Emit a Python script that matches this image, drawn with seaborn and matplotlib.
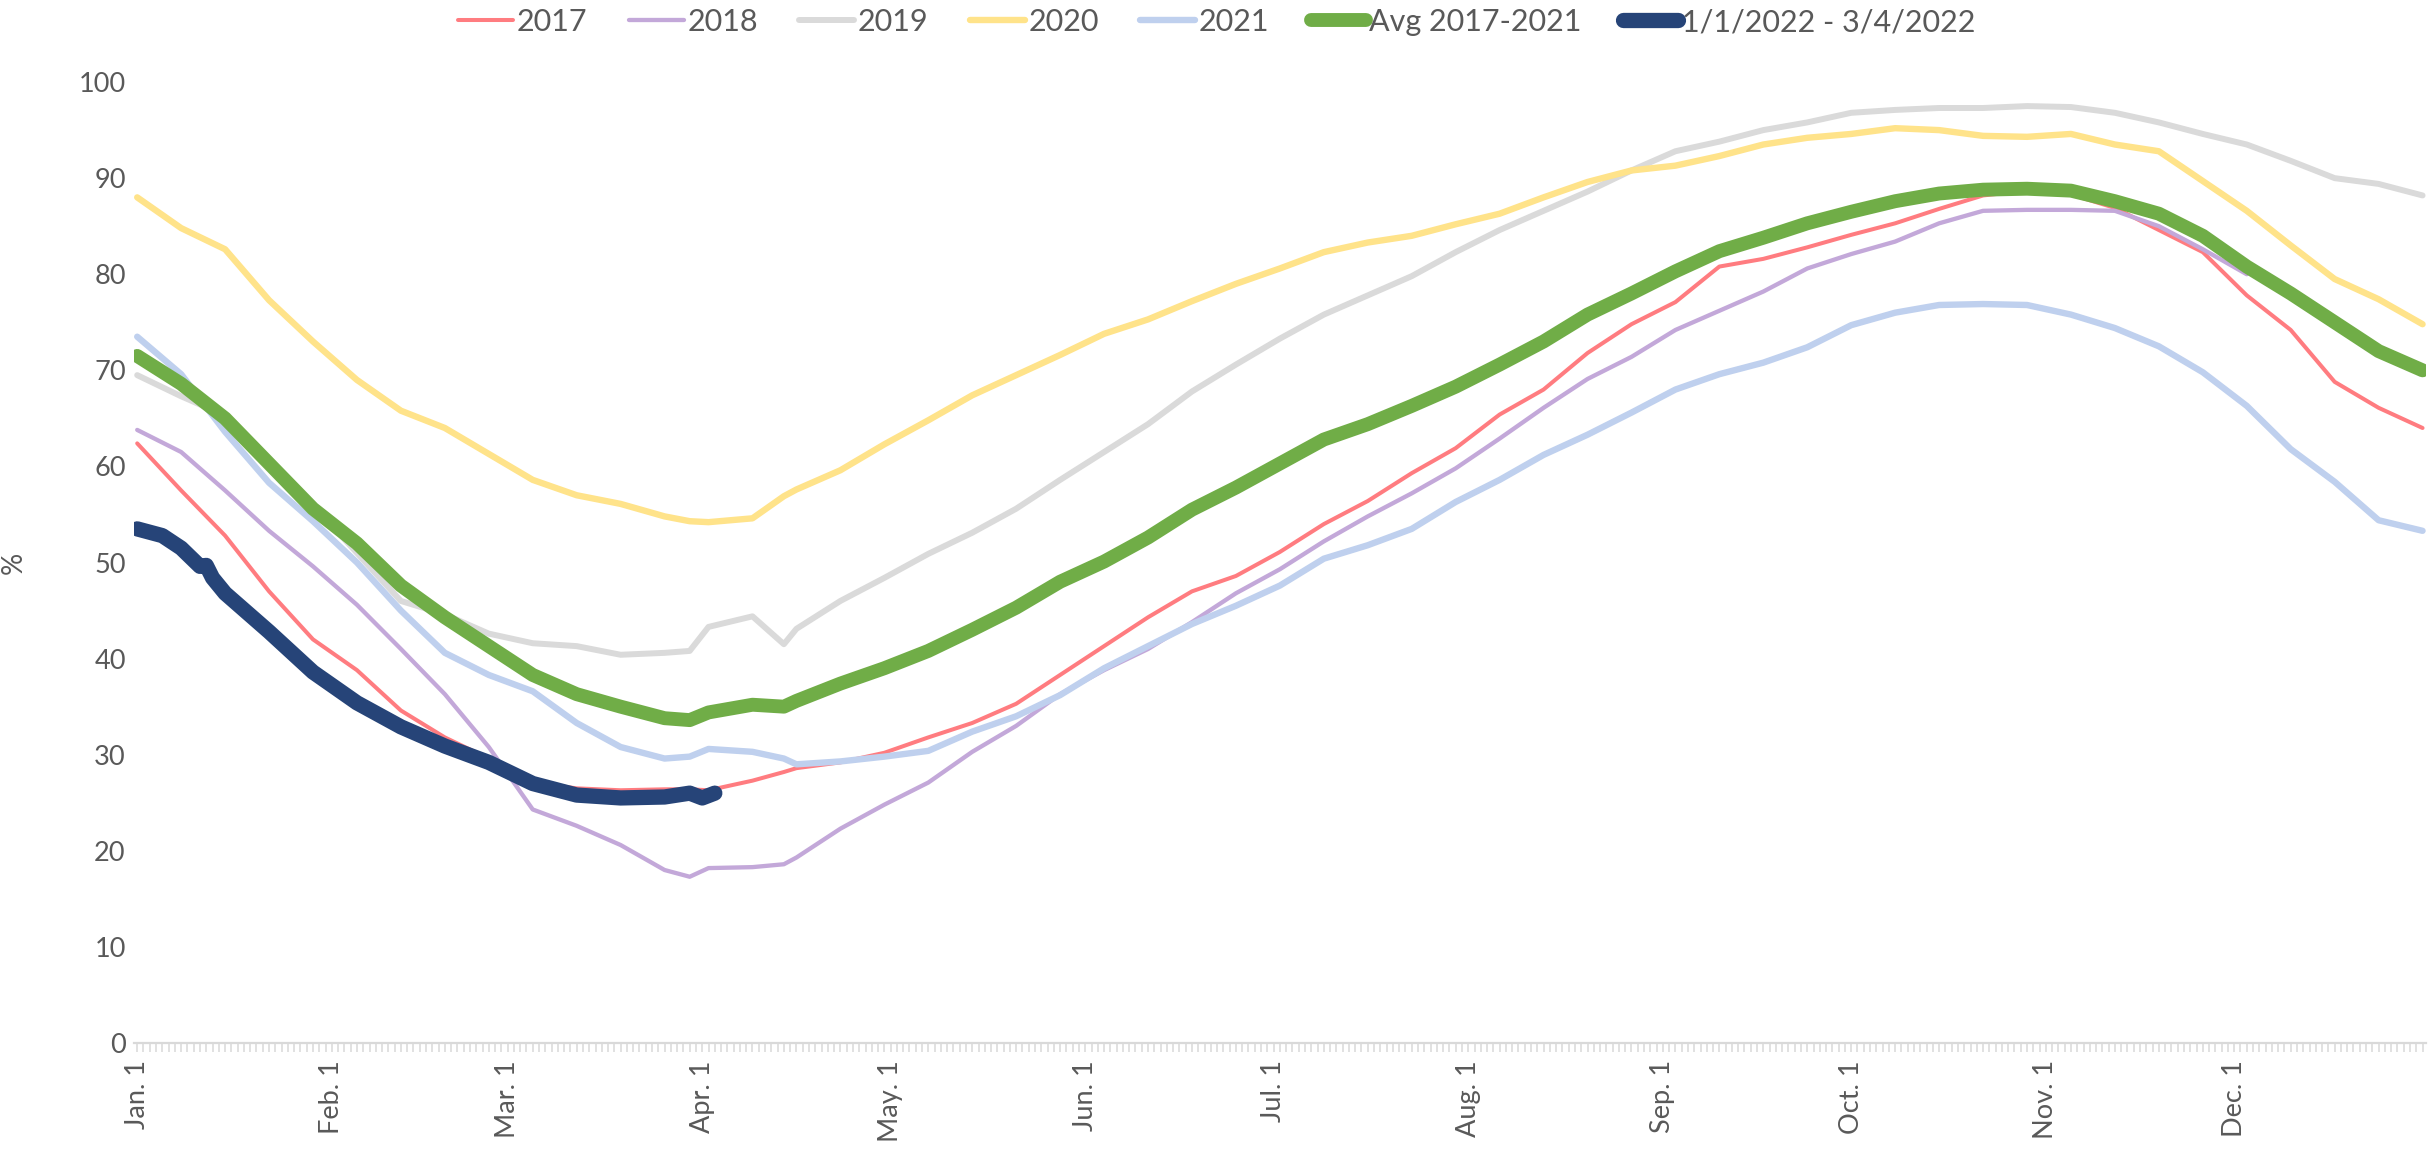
# storage fill level, 2017-2021 vs the start of 2022
import seaborn as sns
import matplotlib.pyplot as plt

# day of the year (0 = Jan. 1) at which the values were read
days = [0, 7, 14, 21, 28, 35, 42, 49, 56, 63, 70, 77, 84, 88, 91, 98, 103, 105,
        112, 119, 126, 133, 140, 147, 154, 161, 168, 175, 182, 189, 196, 203,
        210, 217, 224, 231, 238, 245, 252, 259, 266, 273, 280, 287, 294, 301,
        308, 315, 322, 329, 336, 343, 350, 357, 364]

y2017 = [62.4, 57.5, 52.8, 47.0, 42.0, 38.8, 34.6, 31.8, 29.6, 27.1, 26.5, 26.3,
         26.4, 26.4, 26.3, 27.3, 28.2, 28.6, 29.2, 30.2, 31.8, 33.3, 35.3, 38.3,
         41.3, 44.3, 47.0, 48.6, 51.1, 54.0, 56.4, 59.3, 61.9, 65.4, 68.0, 71.8,
         74.8, 77.1, 80.8, 81.6, 82.8, 84.1, 85.3, 86.8, 88.2, 88.7, 88.3, 86.9,
         84.6, 82.3, 77.8, 74.2, 68.8, 66.1, 64.0]

# 2018 stops at the start of December
y2018 = [63.8, 61.5, 57.5, 53.3, 49.6, 45.6, 41.0, 36.3, 30.8, 24.3, 22.6, 20.6,
         18.0, 17.3, 18.2, 18.3, 18.6, 19.3, 22.3, 24.8, 27.1, 30.3, 33.0, 36.3,
         38.8, 41.0, 43.8, 46.8, 49.3, 52.2, 54.8, 57.2, 59.8, 62.9, 66.1, 69.1,
         71.4, 74.2, 76.2, 78.2, 80.6, 82.1, 83.4, 85.3, 86.6, 86.7, 86.7, 86.6,
         85.0, 82.6, 80.0]

y2019 = [69.5, 67.3, 65.3, 60.5, 56.0, 51.0, 46.0, 44.6, 42.6, 41.6, 41.3, 40.4,
         40.6, 40.8, 43.3, 44.4, 41.5, 43.1, 46.0, 48.4, 50.9, 53.1, 55.6, 58.6,
         61.5, 64.4, 67.8, 70.6, 73.3, 75.8, 77.8, 79.8, 82.3, 84.6, 86.6, 88.6,
         90.8, 92.8, 93.8, 95.0, 95.8, 96.8, 97.1, 97.3, 97.3, 97.5, 97.4, 96.8,
         95.8, 94.6, 93.5, 91.8, 90.0, 89.4, 88.2]

y2020 = [88.0, 84.8, 82.6, 77.3, 73.0, 69.0, 65.8, 64.0, 61.3, 58.6, 57.0, 56.1,
         54.8, 54.3, 54.2, 54.6, 56.9, 57.6, 59.6, 62.3, 64.8, 67.4, 69.5, 71.6,
         73.8, 75.3, 77.2, 79.0, 80.6, 82.3, 83.3, 84.0, 85.2, 86.3, 88.0, 89.6,
         90.8, 91.3, 92.3, 93.5, 94.2, 94.6, 95.2, 95.0, 94.4, 94.3, 94.6, 93.5,
         92.8, 89.7, 86.6, 83.0, 79.5, 77.4, 74.8]

y2021 = [73.5, 69.6, 63.6, 58.3, 54.3, 50.0, 45.0, 40.6, 38.3, 36.6, 33.3, 30.8,
         29.6, 29.8, 30.6, 30.3, 29.6, 29.0, 29.3, 29.8, 30.4, 32.4, 34.0, 36.2,
         39.0, 41.3, 43.6, 45.5, 47.6, 50.4, 51.8, 53.5, 56.3, 58.6, 61.2, 63.3,
         65.6, 68.0, 69.6, 70.8, 72.4, 74.7, 76.0, 76.8, 76.9, 76.8, 75.8, 74.4,
         72.5, 69.8, 66.3, 61.8, 58.4, 54.4, 53.3]

avg = [71.5, 68.6, 65.0, 60.3, 55.6, 52.0, 47.6, 44.3, 41.3, 38.3, 36.3, 35.0,
       33.8, 33.6, 34.4, 35.2, 35.0, 35.6, 37.4, 39.0, 40.8, 43.0, 45.3, 48.0,
       50.1, 52.6, 55.5, 57.8, 60.3, 62.8, 64.4, 66.3, 68.3, 70.6, 73.0, 75.8,
       78.0, 80.3, 82.4, 83.8, 85.3, 86.5, 87.6, 88.4, 88.8, 88.9, 88.7, 87.6,
       86.3, 84.0, 80.8, 78.0, 75.0, 72.0, 70.0]

days_2022 = [0, 4, 7, 10, 11, 12, 14, 21, 28, 35, 42, 49, 56, 63, 70, 77, 84,
             88, 90, 92]
y2022 = [53.5, 52.8, 51.5, 49.6, 49.7, 48.4, 46.8, 42.8, 38.6, 35.4, 32.9, 30.9,
         29.2, 27.0, 25.8, 25.5, 25.6, 26.0, 25.5, 26.0]

month_days = [0, 31, 59, 90, 120, 151, 181, 212, 243, 273, 304, 334]
month_labels = ["Jan. 1", "Feb. 1", "Mar. 1", "Apr. 1", "May. 1", "Jun. 1",
                "Jul. 1", "Aug. 1", "Sep. 1", "Oct. 1", "Nov. 1", "Dec. 1"]

text_color = "#595959"
axis_color = "#D9D9D9"

sns.set_theme(style="white")
plt.rcParams["font.family"] = ["Lato", "DejaVu Sans"]

fig = plt.figure(figsize=(24.33, 11.59), dpi=100)
ax = fig.add_axes([0.0551, 0.1001, 0.9419, 0.8291])

# name, x, y, colour, line width (pt)
series = [
    ("2017", days, y2017, "#FF7C80", 2.9),
    ("2018", days[:len(y2018)], y2018, "#C3A8D9", 3.1),
    ("2019", days, y2019, "#DADADA", 4.3),
    ("2020", days, y2020, "#FFE38A", 4.6),
    ("2021", days, y2021, "#BFD0EE", 4.6),
    ("Avg 2017-2021", days, avg, "#70AD47", 10),
    ("1/1/2022 - 3/4/2022", days_2022, y2022, "#264478", 11),
]

for name, x, y, color, lw in series:
    sns.lineplot(x=x, y=y, ax=ax, color=color, linewidth=lw, label=name,
                 estimator=None, solid_capstyle="round")

ax.set_xlim(-0.5, 364.5)
ax.set_ylim(0, 100)
ax.set_yticks(range(0, 101, 10))
ax.set_xticks(month_days)
ax.set_xticklabels(month_labels, rotation=90)
ax.set_xticks(range(365), minor=True)

for side in ["left", "right", "top"]:
    ax.spines[side].set_visible(False)
ax.spines["bottom"].set_color(axis_color)
ax.spines["bottom"].set_linewidth(1.6)

ax.tick_params(axis="x", which="both", bottom=True, direction="out",
               length=6.5, width=1.1, color=axis_color)
ax.tick_params(axis="x", which="major", labelsize=19.5, labelcolor=text_color, pad=6)
ax.tick_params(axis="y", length=0, labelsize=19.5, labelcolor=text_color, pad=6)

ax.set_xlabel("")
ax.set_ylabel("%", fontsize=20, color=text_color)
ax.yaxis.set_label_coords(-0.047, 0.5)

handles, labels = ax.get_legend_handles_labels()
ax.legend(handles, labels, loc="center", bbox_to_anchor=(0.5, 0.981),
          bbox_transform=fig.transFigure, ncol=7, frameon=False, fontsize=22,
          handlelength=1.8, handletextpad=0.12, columnspacing=1.35,
          labelcolor=text_color)

fig.savefig("out.png", dpi=100)
